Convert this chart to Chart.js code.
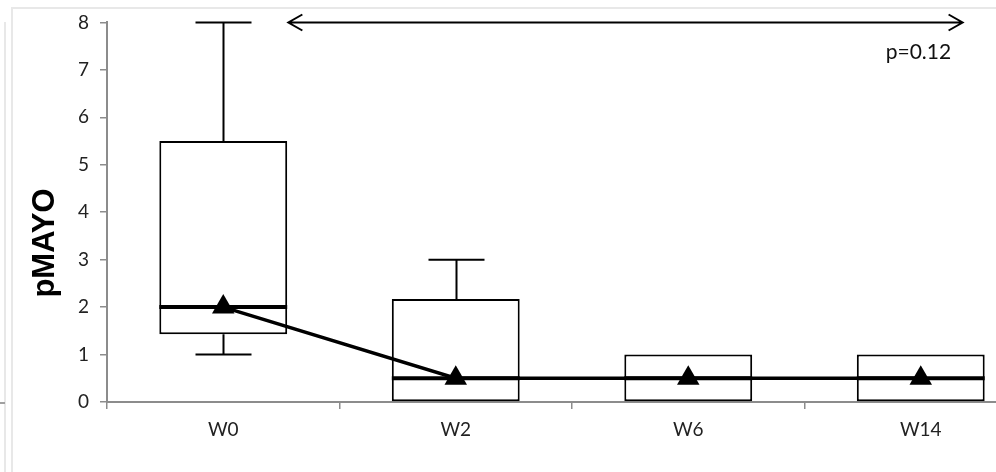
<!DOCTYPE html>
<html>
<head>
<meta charset="utf-8">
<title>pMAYO</title>
<script src="https://cdn.jsdelivr.net/npm/chart.js@4.4.1/dist/chart.umd.min.js"></script>
<style>
  html, body { margin: 0; padding: 0; background: #fff; overflow: hidden; }
  .chart-container { width: 996px; height: 472px; overflow: hidden; position: relative; }
  canvas { display: block; }
</style>
</head>
<body>
<div class="chart-container">
  <canvas id="boxChart" width="1050" height="472"></canvas>
</div>
<script>
// values
const categories = ['W0', 'W2', 'W6', 'W14'];
const whiskerLow = [1, 0, 0, 0];
const quartile1 = [1.43, 0, 0, 0];
const medians = [2, 0.5, 0.5, 0.5];
const quartile3 = [5.5, 2.17, 1, 1];
const whiskerHigh = [8, 3, 1, 1];
const yMin = 0;
const yMax = 8;
const yStep = 1;
const yTitle = 'pMAYO';
const pLabel = 'p=0.12';

const LINE_IDX = 0;
const BOX_IDX = 1;

// whiskers + median bars, drawn between the boxes and the triangle line
const boxExtras = {
  id: 'boxExtras',
  beforeDatasetDraw(chart, args) {
    if (args.index !== LINE_IDX) return;
    const ctx = chart.ctx;
    const y = chart.scales.y;
    const boxes = chart.getDatasetMeta(BOX_IDX).data;
    const capHalf = 28;
    ctx.save();
    ctx.strokeStyle = '#000';
    ctx.lineCap = 'butt';
    boxes.forEach((bar, i) => {
      const x = Math.round(bar.x) + 0.5;
      ctx.lineWidth = 2;
      if (whiskerHigh[i] > quartile3[i]) {
        const top = y.getPixelForValue(whiskerHigh[i]);
        ctx.beginPath();
        ctx.moveTo(x, y.getPixelForValue(quartile3[i]));
        ctx.lineTo(x, top);
        ctx.moveTo(x - capHalf, top);
        ctx.lineTo(x + capHalf, top);
        ctx.stroke();
      }
      if (whiskerLow[i] < quartile1[i]) {
        const bot = y.getPixelForValue(whiskerLow[i]);
        ctx.beginPath();
        ctx.moveTo(x, y.getPixelForValue(quartile1[i]));
        ctx.lineTo(x, bot);
        ctx.moveTo(x - capHalf, bot);
        ctx.lineTo(x + capHalf, bot);
        ctx.stroke();
      }
      const my = y.getPixelForValue(medians[i]);
      ctx.lineWidth = 4;
      ctx.beginPath();
      ctx.moveTo(bar.x - bar.width / 2, my);
      ctx.lineTo(bar.x + bar.width / 2, my);
      ctx.stroke();
    });
    ctx.restore();
  }
};

// double arrow across the top and the p value
const arrowFrom = 0.28;
const arrowTo = 3.18;
const pAt = 2.99;
const pValueY = 7.37;

const annotations = {
  id: 'annotations',
  beforeDraw(chart) {
    // faint frame left over from the original screenshot
    const ctx = chart.ctx;
    ctx.save();
    ctx.strokeStyle = '#e8e8e8';
    ctx.lineWidth = 2;
    ctx.beginPath();
    ctx.moveTo(12, 472);
    ctx.lineTo(12, 8);
    ctx.lineTo(chart.width, 8);
    ctx.moveTo(5, 22);
    ctx.lineTo(5, 472);
    ctx.stroke();
    ctx.strokeStyle = '#a0a0a0';
    ctx.beginPath();
    ctx.moveTo(0, 403);
    ctx.lineTo(5, 403);
    ctx.stroke();
    ctx.restore();
  },
  afterDraw(chart) {
    const ctx = chart.ctx;
    const x = chart.scales.x;
    const y = chart.scales.y;
    const ay = Math.round(y.getPixelForValue(yMax)) + 0.5;
    const x1 = x.getPixelForValue(arrowFrom);
    const x2 = x.getPixelForValue(arrowTo);
    const head = 14;
    const spread = 8;
    ctx.save();
    ctx.strokeStyle = '#000';
    ctx.lineWidth = 2;
    ctx.beginPath();
    ctx.moveTo(x1, ay);
    ctx.lineTo(x2, ay);
    ctx.moveTo(x1 + head, ay - spread);
    ctx.lineTo(x1, ay);
    ctx.lineTo(x1 + head, ay + spread);
    ctx.moveTo(x2 - head, ay - spread);
    ctx.lineTo(x2, ay);
    ctx.lineTo(x2 - head, ay + spread);
    ctx.stroke();
    ctx.fillStyle = '#111';
    ctx.font = '21px Lato';
    ctx.textAlign = 'center';
    ctx.textBaseline = 'middle';
    ctx.fillText(pLabel, x.getPixelForValue(pAt), y.getPixelForValue(pValueY));

    // y axis title, sits a bit below the middle of the axis like the original
    ctx.translate(45, y.getPixelForValue(3.35));
    ctx.rotate(-Math.PI / 2);
    ctx.fillStyle = '#000';
    ctx.font = 'bold 31px "Liberation Sans"';
    ctx.fillText(yTitle, 0, 0);
    ctx.restore();
  }
};

const ctx = document.getElementById('boxChart').getContext('2d');
new Chart(ctx, {
  type: 'bar',
  data: {
    labels: categories,
    datasets: [{
      type: 'line',
      label: 'median',
      data: medians,
      borderColor: '#000',
      backgroundColor: '#000',
      borderWidth: 3.5,
      pointStyle: 'triangle',
      pointRadius: 13,
      pointBorderWidth: 0,
      pointBackgroundColor: '#000',
      tension: 0,
      order: 1
    }, {
      type: 'bar',
      label: 'IQR',
      data: categories.map((c, i) => [quartile1[i], quartile3[i]]),
      backgroundColor: '#fff',
      borderColor: '#000',
      borderWidth: 2,
      borderSkipped: false,
      barPercentage: 0.55,
      categoryPercentage: 1,
      order: 2
    }]
  },
  options: {
    responsive: false,
    animation: false,
    devicePixelRatio: 1,
    layout: { padding: { top: 22, right: 5, left: 0, bottom: 0 } },
    plugins: {
      legend: { display: false },
      tooltip: { enabled: false }
    },
    scales: {
      x: {
        offset: true,
        grid: {
          display: true,
          offset: true,
          drawOnChartArea: false,
          color: '#8c8c8c',
          tickLength: 7,
          lineWidth: 1.5
        },
        border: { color: '#8c8c8c', width: 2 },
        ticks: {
          color: '#222',
          font: { family: 'Lato', size: 19 },
          padding: 9
        },
        afterFit(scale) { scale.height = 70; }
      },
      y: {
        min: yMin,
        max: yMax,
        grid: {
          display: true,
          drawOnChartArea: false,
          color: '#8c8c8c',
          tickLength: 7,
          lineWidth: 1.5
        },
        border: { color: '#8c8c8c', width: 2 },
        ticks: {
          stepSize: yStep,
          color: '#222',
          font: { family: 'Lato', size: 19 },
          padding: 11
        },
        afterFit(scale) { scale.width = 107; }
      }
    }
  },
  plugins: [boxExtras, annotations]
});
</script>
</body>
</html>
